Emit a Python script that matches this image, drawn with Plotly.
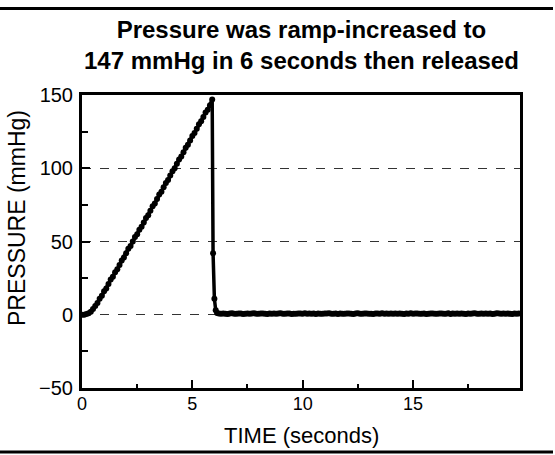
import numpy as np
import plotly.graph_objects as go

# Ramp phase: sampled every 0.1 s from 0.0 to 5.9 s
ramp_time = np.round(np.arange(0.0, 5.95, 0.1), 2)
ramp_pressure = [0, 0, 0.5, 1, 2, 4, 6, 8, 11, 13,
                 16, 18, 21, 24, 26, 29, 31, 34, 37, 39,
                 42, 45, 47, 50, 53, 55, 58, 60, 63, 66,
                 68, 71, 74, 76, 79, 82, 84, 87, 90, 92,
                 95, 98, 100, 103, 106, 108, 111, 114, 116, 119,
                 122, 124, 127, 130, 132, 135, 138, 140, 143, 147]

# Release phase
drop_time = [5.94, 6.0, 6.06, 6.12]
drop_pressure = [42, 11, 3, 1.2]

# Baseline after release: sampled every 0.1 s from 6.2 s
flat_pressure = [0.8,0.6,0.9,0.7,0.5,0.8,1.0,0.7,0.6,0.9,0.8,0.5,0.7,0.9,0.6,0.8,1.0,0.7,0.6,0.8,
                 0.9,0.7,0.5,0.8,0.6,0.9,0.7,0.8,1.0,0.6,0.7,0.9,0.8,0.5,0.7,0.6,0.9,0.8,0.7,1.0,
                 0.6,0.8,0.7,0.9,0.5,0.8,0.6,0.7,0.9,0.8,1.0,0.6,0.7,0.8,0.5,0.9,0.7,0.6,0.8,0.9,
                 0.7,0.5,0.8,1.0,0.6,0.7,0.9,0.8,0.6,0.7,0.5,0.9,0.8,0.6,1.0,0.7,0.8,0.6,0.9,0.7,
                 0.8,0.6,0.9,0.7,0.5,0.8,0.7,1.0,0.6,0.8,0.9,0.7,0.6,0.8,0.5,0.7,0.9,0.8,0.6,0.7,
                 0.9,0.8,0.6,0.7,1.0,0.5,0.8,0.7,0.9,0.6,0.8,0.7,0.5,0.9,0.6,0.8,1.0,0.7,0.6,0.8,
                 0.7,0.9,0.6,0.8,0.5,0.7,1.0,0.8,0.6,0.9,0.7,0.8,0.6,0.5,0.9,0.7,0.8,0.6]
flat_time = np.round(6.2 + 0.1 * np.arange(len(flat_pressure)), 2)

time = list(ramp_time) + drop_time + list(flat_time)
pressure = ramp_pressure + drop_pressure + flat_pressure

TITLE = "<b>Pressure was ramp-increased to<br>147 mmHg in 6 seconds then released</b>"
X_TITLE = "TIME (seconds)"
Y_TITLE = "PRESSURE (mmHg)"

FONT = "Liberation Sans, Arial, sans-serif"
L, R, T, B, W, H = 82, 35, 95, 67, 555, 455
PW, PH = W - L - R, H - T - B

def px_x(x):
    return (x - L) / PW

def px_y(y):
    return (H - B - y) / PH

fig = go.Figure()
fig.add_trace(go.Scatter(
    x=time, y=pressure, mode="lines+markers",
    line=dict(color="black", width=3.5),
    marker=dict(color="black", size=6),
    cliponaxis=False, showlegend=False,
))

fig.update_layout(
    width=W, height=H,
    margin=dict(l=L, r=R, t=T, b=B),
    paper_bgcolor="white", plot_bgcolor="white",
    font=dict(family=FONT, color="black", size=20),
)

fig.update_xaxes(
    range=[0, 19.85], tickvals=[0, 5, 10, 15],
    ticks="inside", ticklen=8, tickwidth=2, tickcolor="black",
    minor=dict(ticks="inside", dtick=2.5, tick0=0, ticklen=4, tickwidth=2, tickcolor="black", showgrid=False),
    showline=True, linewidth=3, linecolor="black", mirror=True,
    showgrid=False, zeroline=False,
    ticklabelstandoff=-3,
    tickfont=dict(size=18),
)
fig.update_yaxes(
    range=[-50, 150], tick0=-50, dtick=50,
    ticks="inside", ticklen=8, tickwidth=2, tickcolor="black",
    minor=dict(ticks="inside", dtick=25, tick0=0, ticklen=6, tickwidth=2, tickcolor="black", showgrid=False),
    showline=True, linewidth=3, linecolor="black", mirror=True,
    showgrid=True, gridcolor="#333", griddash="dash", gridwidth=1,
    zeroline=False,
    ticklabelstandoff=2,
    tickfont=dict(size=20),
)

# Title and axis titles
fig.add_annotation(text=TITLE, xref="paper", yref="paper", x=px_x(301), y=px_y(45),
                   xanchor="center", yanchor="middle", showarrow=False,
                   font=dict(family=FONT, size=24, color="black"))
fig.add_annotation(text=X_TITLE, xref="paper", yref="paper", x=px_x(301), y=px_y(435),
                   xanchor="center", yanchor="middle", showarrow=False,
                   font=dict(family=FONT, size=22, color="black"))
fig.add_annotation(text=Y_TITLE, xref="paper", yref="paper", x=px_x(17), y=px_y(218),
                   xanchor="center", yanchor="middle", showarrow=False, textangle=-90,
                   font=dict(family=FONT, size=23, color="black"))

# Figure frame lines (top and bottom)
for yy in [px_y(8.5), px_y(452)]:
    fig.add_shape(type="line", xref="paper", yref="paper",
                  x0=px_x(0), x1=px_x(553), y0=yy, y1=yy,
                  line=dict(color="black", width=3))

fig.write_html("out.html", config={"displayModeBar": False},
               post_script="document.body.style.margin='0';")
